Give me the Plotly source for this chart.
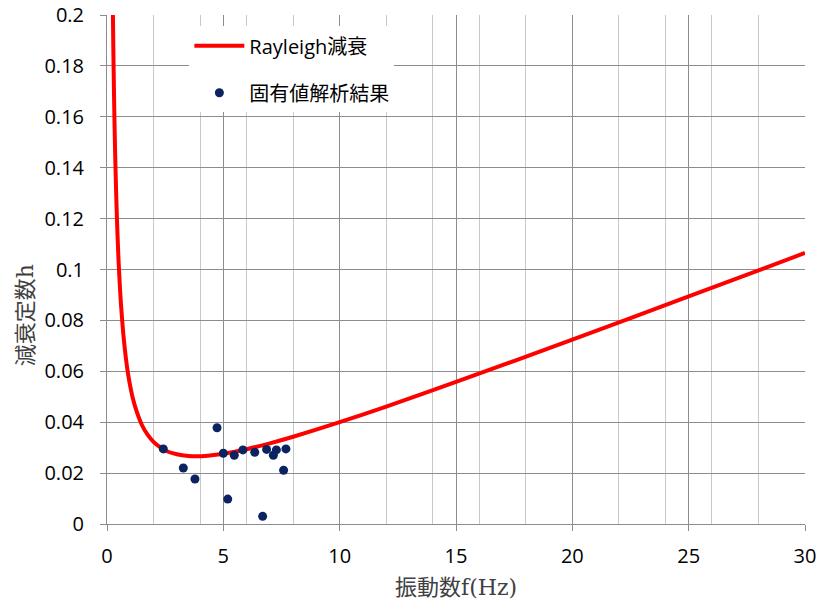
import plotly.graph_objects as go

# Rayleigh damping curve
curve_f = [0.25, 0.27, 0.3, 0.32, 0.35, 0.4, 0.45, 0.5, 0.55, 0.6, 0.7, 0.8, 0.9, 1.0,
           1.1, 1.25, 1.5, 1.75, 2.0, 2.25, 2.5, 3.0, 3.5, 4.0, 4.5, 5.0, 6.0, 7.0,
           8.0, 10.0, 12.0, 15.0, 20.0, 25.0, 30.0]
curve_h = [0.2033, 0.1883, 0.1697, 0.1592, 0.1458, 0.1279, 0.1140, 0.1029, 0.0939, 0.0864,
           0.0747, 0.0660, 0.0593, 0.0541, 0.0498, 0.0449, 0.0389, 0.0350, 0.0323, 0.0304,
           0.0289, 0.0274, 0.0267, 0.0266, 0.0270, 0.0276, 0.0294, 0.0317, 0.0343, 0.0400,
           0.0461, 0.0558, 0.0724, 0.0894, 0.1065]

# Eigenvalue analysis results
eig_f = [2.42, 4.73, 3.28, 3.78, 5.00, 5.47, 5.84, 6.35, 5.19, 6.69, 6.86, 7.28, 7.15, 7.69, 7.59]
eig_h = [0.0295, 0.0378, 0.0220, 0.0177, 0.0278, 0.0270, 0.0291, 0.0282, 0.0098, 0.0030,
         0.0293, 0.0291, 0.0270, 0.0295, 0.0211]

x_title = "振動数f(Hz)"
y_title = "減衰定数h"
line_name = "Rayleigh減衰"
point_name = "固有値解析結果"

fig = go.Figure()
fig.add_trace(go.Scatter(
    x=curve_f, y=curve_h, mode="lines", name=line_name, legendgroup="a",
    line=dict(color="#FF0000", width=4, shape="spline", smoothing=0.6),
))
fig.add_trace(go.Scatter(
    x=eig_f, y=eig_h, mode="markers", name=point_name, legendgroup="b",
    marker=dict(color="#0B2461", size=9),
))

major = "#8C8C8C"
minor = "#C8C8C8"
tickfont = dict(family="Open Sans, Noto Sans CJK JP", size=20, color="#000000")
titlefont = dict(family="DejaVu Serif, Noto Sans CJK JP", size=22, color="#404040")

fig.update_layout(
    width=821, height=605,
    margin=dict(l=107, r=16, t=15, b=81, autoexpand=False),
    paper_bgcolor="white", plot_bgcolor="white",
    showlegend=True,
    legend=dict(
        x=0.118, y=0.978, xanchor="left", yanchor="top",
        bgcolor="white", borderwidth=0,
        font=dict(family="Open Sans, Noto Sans CJK JP", size=20, color="#000000"),
        tracegroupgap=18, traceorder="grouped", itemwidth=50,
        entrywidth=190, entrywidthmode="pixels",
    ),
    xaxis=dict(
        range=[0, 30], tick0=0, dtick=5, showgrid=True, gridcolor=major, gridwidth=1,
        minor=dict(dtick=2, tick0=0, showgrid=True, gridcolor=minor, gridwidth=1),
        showline=True, linecolor=major, linewidth=1, zeroline=False,
        ticks="outside", ticklen=6, tickcolor=major, tickfont=tickfont,
        ticklabelstandoff=8, automargin=False,
    ),
    yaxis=dict(
        range=[0, 0.2], tick0=0, dtick=0.02, showgrid=True, gridcolor=major, gridwidth=1,
        showline=True, linecolor=major, linewidth=1, zeroline=False,
        ticks="outside", ticklen=6, tickcolor=major, tickfont=tickfont,
        ticklabelstandoff=12, automargin=False,
    ),
    annotations=[
        dict(text=x_title, xref="paper", yref="paper", x=0.5, y=-0.124,
             xanchor="center", yanchor="middle", showarrow=False, font=titlefont),
        dict(text=y_title, xref="paper", yref="paper", x=-0.1175, y=0.41,
             xanchor="center", yanchor="middle", showarrow=False, textangle=-90,
             font=titlefont),
    ],
)

fig.write_html(
    "out.html",
    config={"displayModeBar": False},
    post_script="document.body.style.margin='0';document.body.style.overflow='hidden';",
)
